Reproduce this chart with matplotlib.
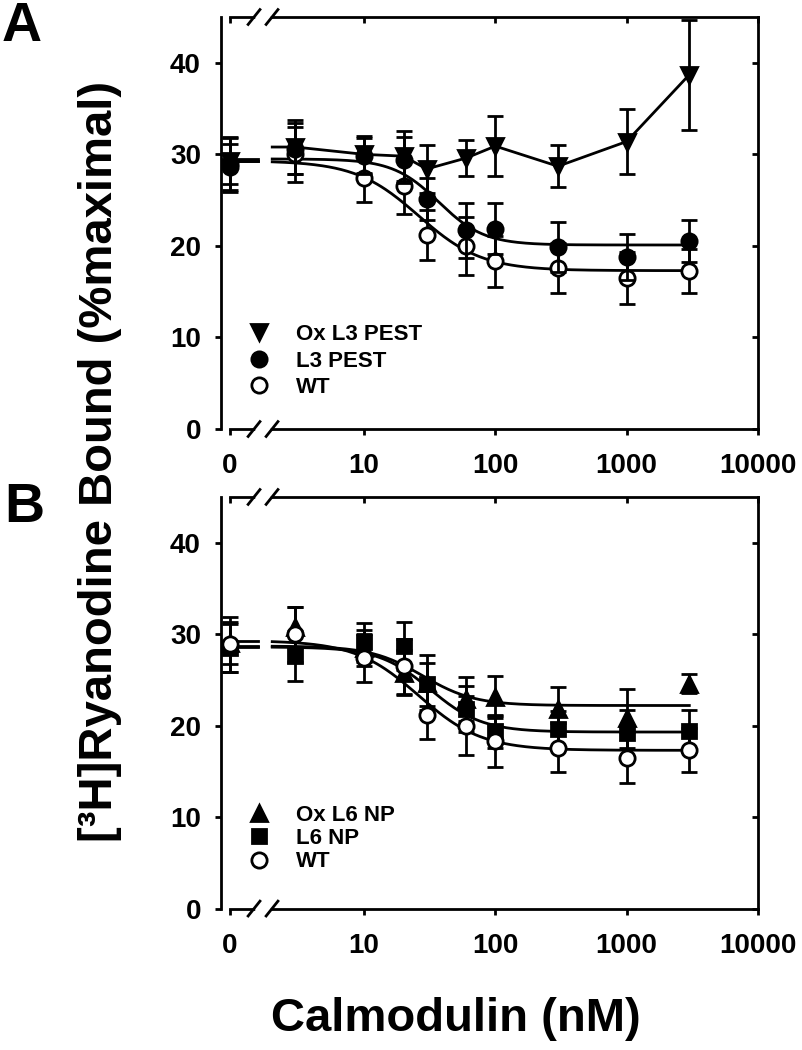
import numpy as np
import matplotlib
matplotlib.use("Agg")
import matplotlib.pyplot as plt
from matplotlib.ticker import FixedLocator, FixedFormatter, NullLocator

plt.rcParams['font.family'] = ['Liberation Sans', 'DejaVu Sans']
plt.rcParams['font.weight'] = 'bold'

# --- data ---
# calmodulin concentrations in nM; 0 sits on the short segment before the axis break
conc = [0, 3, 10, 20, 30, 60, 100, 300, 1000, 3000]

# Panel A
wt_mean = [28.9, 30.0, 27.4, 26.5, 21.2, 20.0, 18.3, 17.6, 16.5, 17.3]
wt_err = [3.0, 3.0, 2.6, 3.0, 2.7, 3.2, 2.8, 2.7, 2.8, 2.4]
l3_mean = [28.6, 30.6, 29.8, 29.4, 25.1, 21.7, 21.9, 19.9, 18.8, 20.5]
l3_err = [2.5, 2.8, 2.0, 2.5, 2.3, 3.0, 2.8, 2.7, 2.5, 2.3]
oxl3_mean = [29.3, 30.8, 30.0, 29.8, 28.4, 29.6, 30.9, 28.7, 31.4, 38.7]
oxl3_err = [2.5, 3.0, 2.0, 2.7, 2.6, 2.0, 3.3, 2.3, 3.6, 6.0]

# Panel B
l6_mean = [28.5, 27.6, 29.1, 28.7, 24.5, 21.8, 19.4, 19.6, 19.2, 19.4]
l6_err = [2.6, 2.7, 2.1, 2.6, 2.4, 2.5, 1.8, 2.0, 2.5, 2.3]
oxl6_mean = [29.0, 30.8, 28.5, 25.8, 24.7, 22.9, 23.1, 21.8, 20.8, 24.6]
oxl6_err = [2.3, 2.2, 2.0, 2.5, 3.0, 2.4, 2.3, 2.4, 3.2, 1.0]

# fitted Hill curves: top, bottom, IC50 (nM), slope
wt_fit = (29.3, 17.3, 26.0, 1.8)
l3_fit = (29.5, 20.1, 37.0, 2.5)
l6_fit = (28.6, 19.3, 32.0, 2.2)
oxl6_fit = (28.7, 22.2, 28.0, 2.2)

x_tick_vals = [0, 10, 100, 1000, 10000]
x_tick_labels = ['0', '10', '100', '1000', '10000']
y_ticks = [0, 10, 20, 30, 40]

# --- layout helpers ---
ZERO_AT = 0.95          # where "0" is drawn on the log axis
STUB = (0.843, 1.56)    # extent of the short line pieces on the zero segment
CURVE_START = 2.0       # lines resume right of the break
XLIM = (0.815, 10000)


def xpos(values):
    return [ZERO_AT if v == 0 else v for v in values]


def hill(x, fit):
    top, bottom, ic50, n = fit
    return bottom + (top - bottom) / (1.0 + (x / ic50) ** n)


def draw_fit(ax, fit):
    ax.plot(STUB, [fit[0], fit[0]], color='black', lw=2, zorder=2)
    xx = np.logspace(np.log10(CURVE_START), np.log10(3000), 200)
    ax.plot(xx, hill(xx, fit), color='black', lw=2, zorder=2)


def draw_series(ax, mean, err, marker, face, size, z):
    ax.errorbar(xpos(conc), mean, yerr=err, fmt='none', ecolor='black',
                elinewidth=2, capsize=6, capthick=2, zorder=z)
    h, = ax.plot(xpos(conc), mean, marker, ls='none', ms=size, mfc=face,
                 mec='black', mew=2, zorder=z + 0.5)
    return h


def style_axes(ax):
    ax.set_xscale('log')
    ax.set_xlim(*XLIM)
    ax.set_ylim(0, 45)
    ax.xaxis.set_major_locator(FixedLocator(xpos(x_tick_vals)))
    ax.xaxis.set_major_formatter(FixedFormatter(x_tick_labels))
    ax.xaxis.set_minor_locator(NullLocator())
    ax.set_yticks(y_ticks)
    ax.tick_params(axis='both', direction='out', length=4.5, width=2, labelsize=20)
    ax.tick_params(axis='x', pad=13)
    ax.tick_params(axis='y', pad=10)
    for sp in ax.spines.values():
        sp.set_linewidth(2)
    ax.spines['bottom'].set_bounds(ZERO_AT, XLIM[1])
    ax.spines['top'].set_bounds(ZERO_AT, XLIM[1])

    # mirrored ticks on top and right point inward
    top = ax.secondary_xaxis('top')
    top.xaxis.set_major_locator(FixedLocator(xpos(x_tick_vals)))
    top.xaxis.set_minor_locator(NullLocator())
    top.tick_params(direction='in', length=4.5, width=2, labeltop=False)
    right = ax.secondary_yaxis('right')
    right.set_yticks(y_ticks)
    right.tick_params(direction='in', length=4.5, width=2, labelright=False)
    for sec in (top, right):
        for sp in sec.spines.values():
            sp.set_visible(False)

    # axis break marks on top and bottom
    for yb in (0, 1):
        ax.plot([0.068, 0.088], [yb, yb], transform=ax.transAxes, color='white',
                lw=4, clip_on=False, zorder=10)
        for xc in (0.0615, 0.095):
            ax.plot([xc - 0.011, xc + 0.011], [yb - 0.018, yb + 0.018],
                    transform=ax.transAxes, color='black', lw=2,
                    clip_on=False, zorder=11)


fig = plt.figure(figsize=(8.02, 10.5), dpi=100)
axA = fig.add_axes([0.2756, 0.5914, 0.6695, 0.3924])
axB = fig.add_axes([0.2756, 0.1347, 0.6695, 0.3920])

# --- Panel A ---
style_axes(axA)
draw_fit(axA, wt_fit)
draw_fit(axA, l3_fit)
# Ox L3 PEST points are joined point to point
axA.plot(STUB, [oxl3_mean[0]] * 2, color='black', lw=2, zorder=2)
axA.plot([CURVE_START] + conc[1:], [oxl3_mean[1]] + oxl3_mean[1:],
         color='black', lw=2, zorder=2)
hA_wt = draw_series(axA, wt_mean, wt_err, 'o', 'white', 11, 3)
hA_l3 = draw_series(axA, l3_mean, l3_err, 'o', 'black', 11, 4)
hA_ox = draw_series(axA, oxl3_mean, oxl3_err, 'v', 'black', 12, 5)
axA.legend([hA_ox, hA_l3, hA_wt], ['Ox L3 PEST', 'L3 PEST', 'WT'],
           loc='upper left', bbox_to_anchor=(0.05, 0.255), frameon=False,
           fontsize=16, handlelength=1.0, handletextpad=1.15,
           labelspacing=0.25, borderpad=0, borderaxespad=0)

# --- Panel B ---
style_axes(axB)
draw_fit(axB, oxl6_fit)
draw_fit(axB, l6_fit)
draw_fit(axB, wt_fit)
hB_ox = draw_series(axB, oxl6_mean, oxl6_err, '^', 'black', 12, 3)
hB_l6 = draw_series(axB, l6_mean, l6_err, 's', 'black', 10, 4)
hB_wt = draw_series(axB, wt_mean, wt_err, 'o', 'white', 11, 5)
axB.legend([hB_ox, hB_l6, hB_wt], ['Ox L6 NP', 'L6 NP', 'WT'],
           loc='upper left', bbox_to_anchor=(0.05, 0.252), frameon=False,
           fontsize=16, handlelength=1.0, handletextpad=1.15,
           labelspacing=0.1, borderpad=0, borderaxespad=0)

# --- labels ---
fig.text(0.0274, 0.974, 'A', fontsize=40, ha='center', va='center')
fig.text(0.030, 0.516, 'B', fontsize=40, ha='center', va='center')
fig.text(0.1247, 0.561, '[³H]Ryanodine Bound (%maximal)', fontsize=34,
         rotation=90, ha='center', va='center')
fig.text(0.5686, 0.0295, 'Calmodulin (nM)', fontsize=34, ha='center', va='center')

fig.savefig('out.png', dpi=100)
